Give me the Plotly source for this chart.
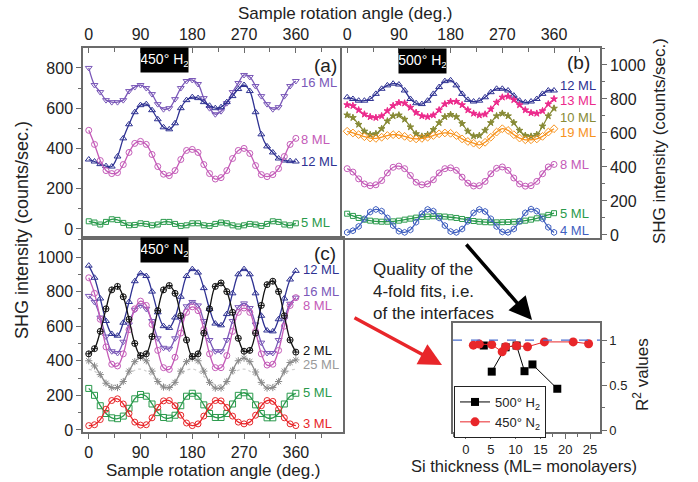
import plotly.graph_objects as go

# ---------------- data ----------------
ANGLES = list(range(0, 361, 10))

# panel (a) 450 C H2
a_16ML = [800, 715, 680, 640, 630, 630, 640, 685, 705, 715, 700, 670, 620, 595, 600, 645, 700, 735, 740, 720,
          650, 600, 570, 585, 625, 680, 725, 765, 755, 710, 660, 620, 595, 605, 660, 710, 735]
a_12ML = [345, 335, 322, 312, 310, 360, 450, 520, 580, 615, 620, 590, 545, 505, 495, 525, 600, 640, 655, 650,
          630, 612, 600, 605, 630, 660, 695, 715, 685, 580, 470, 410, 380, 350, 340, 337, 335]
a_8ML = [490, 420, 340, 290, 275, 280, 320, 380, 425, 435, 420, 370, 310, 272, 265, 290, 345, 390, 395, 380,
         320, 275, 248, 255, 290, 350, 390, 400, 375, 315, 270, 260, 270, 300, 360, 420, 450]
a_5ML = [38, 32, 22, 35, 48, 45, 30, 18, 20, 28, 25, 18, 22, 35, 35, 25, 15, 18, 28, 28,
         18, 15, 25, 32, 28, 18, 12, 18, 25, 22, 15, 25, 38, 35, 22, 18, 28]

# panel (b) 500 C H2
b_12ML = [810, 800, 790, 790, 800, 830, 860, 880, 890, 885, 850, 800, 775, 770, 790, 830, 870, 905, 910, 880,
          830, 795, 785, 790, 810, 840, 860, 860, 850, 820, 790, 780, 785, 800, 830, 850, 850]
b_13ML = [765, 760, 735, 710, 695, 690, 700, 730, 760, 778, 775, 750, 720, 700, 695, 705, 735, 770, 785, 785,
          765, 735, 715, 705, 710, 740, 780, 810, 815, 795, 765, 735, 718, 715, 730, 770, 800]
b_10ML = [705, 690, 650, 610, 590, 595, 625, 670, 700, 705, 680, 635, 595, 580, 590, 620, 660, 695, 708, 695,
          655, 610, 582, 585, 615, 660, 700, 715, 700, 660, 615, 585, 580, 590, 640, 700, 745]
b_19ML = [610, 600, 590, 578, 570, 568, 575, 585, 590, 588, 580, 570, 565, 568, 575, 585, 595, 600, 598, 585,
          565, 550, 540, 530, 545, 575, 605, 625, 615, 590, 570, 560, 560, 565, 580, 605, 625]
b_8ML = [390, 370, 330, 300, 290, 295, 320, 365, 398, 405, 390, 350, 310, 295, 300, 325, 365, 390, 395, 380,
         340, 305, 288, 290, 315, 360, 392, 400, 380, 335, 300, 287, 290, 315, 360, 400, 415]
b_5ML = [125, 112, 100, 90, 84, 80, 78, 78, 80, 84, 90, 96, 102, 106, 108, 110, 110, 108, 104, 100,
         94, 88, 82, 78, 75, 74, 74, 75, 76, 78, 80, 84, 90, 98, 108, 118, 128]
b_4ML = [15, 25, 50, 95, 135, 150, 140, 100, 55, 22, 15, 30, 75, 125, 150, 140, 100, 55, 20, 15,
         35, 80, 130, 150, 138, 95, 50, 18, 15, 35, 80, 130, 152, 140, 95, 45, 15]

# panel (c) 450 C N2
c_12ML = [950, 880, 760, 630, 555, 545, 620, 740, 860, 905, 890, 800, 680, 600, 590, 650, 770, 890, 930, 910,
          820, 700, 615, 605, 670, 790, 900, 930, 900, 790, 660, 575, 570, 640, 760, 870, 920]
c_16ML = [775, 740, 650, 540, 455, 445, 510, 610, 695, 720, 700, 630, 530, 475, 470, 530, 640, 715, 740, 720,
          630, 520, 455, 455, 520, 630, 710, 732, 705, 610, 505, 445, 445, 520, 640, 730, 765]
c_8ML = [880, 790, 640, 480, 380, 370, 440, 580, 700, 745, 720, 610, 460, 360, 350, 420, 560, 680, 712, 690,
         580, 440, 360, 360, 430, 570, 680, 705, 680, 570, 440, 375, 380, 460, 600, 720, 765]
c_2ML = [440, 470, 570, 700, 810, 830, 770, 640, 500, 430, 440, 540, 690, 810, 835, 790, 660, 520, 425, 440,
         560, 700, 830, 850, 800, 680, 530, 455, 460, 560, 720, 840, 860, 800, 660, 520, 450]
c_25ML = [400, 370, 320, 270, 245, 245, 280, 340, 395, 420, 400, 340, 280, 248, 245, 275, 340, 395, 415, 400,
          340, 275, 242, 242, 280, 345, 400, 415, 395, 335, 275, 242, 245, 280, 340, 390, 405]
c_25ML_fit = [350, 340, 310, 280, 262, 262, 285, 320, 345, 352, 340, 310, 280, 262, 262, 285, 320, 345, 352, 340,
              310, 280, 262, 262, 285, 320, 345, 352, 340, 310, 280, 262, 262, 285, 320, 345, 350]
c_5ML = [240, 200, 140, 95, 70, 65, 80, 125, 180, 205, 195, 150, 100, 72, 68, 85, 140, 195, 212, 195,
         145, 95, 72, 72, 95, 150, 200, 215, 195, 145, 95, 70, 70, 95, 150, 195, 212]
c_3ML = [25, 30, 60, 120, 170, 180, 150, 95, 45, 28, 30, 70, 130, 168, 170, 140, 85, 40, 25, 35,
         80, 135, 170, 168, 130, 80, 45, 35, 45, 85, 140, 170, 165, 120, 70, 35, 25]

# inset: R^2 of 4-fold fits
h2_thick = [3.6, None, 5.2, 8.0, 10.2, 11.8, None, 13.4, 18.4]
h2_r2 = [0.94, None, 0.65, 0.92, 0.94, 0.655, None, 0.73, 0.46]
n2_thick = [1.5, 2.7, 5.2, 7.3, 8.0, 10.2, 12.4, 15.8, 21.6, 24.7]
n2_r2 = [0.944, 0.956, 0.95, 0.87, 0.926, 0.937, 0.926, 0.98, 0.98, 0.96]

# ---------------- styling ----------------
W, H = 698, 482
FONT = "Liberation Sans, Arial, sans-serif"
AX = "#6b6b6b"
C_PURPLE = "#7a58b8"
C_NAVY = "#2e3192"
C_ORCHID = "#c45bb8"
C_GREEN = "#2a9a4c"
C_PINK = "#ec2a8c"
C_OLIVE = "#878a35"
C_ORANGE = "#f7931e"
C_BLUE = "#3f5fbf"
C_BLACK = "#111111"
C_GRAY = "#8a8a8a"
C_RED = "#e8262a"


def pxx(x):
    return x / W


def pyy(y):
    return 1 - y / H


fig = go.Figure()


def add_series(xa, ya, vals, color, symbol, size=6):
    fig.add_trace(go.Scatter(
        x=ANGLES, y=vals, mode="lines+markers", xaxis=xa, yaxis=ya, showlegend=False,
        line=dict(color=color, width=1.3, shape="spline", smoothing=1.0),
        marker=dict(symbol=symbol, size=size, color=color, line=dict(color=color, width=1)),
        hoverinfo="skip"))


# panel (a)
add_series("x", "y", a_16ML, C_PURPLE, "triangle-down-open")
add_series("x", "y", a_12ML, C_NAVY, "triangle-up-open")
add_series("x", "y", a_8ML, C_ORCHID, "circle-open")
add_series("x", "y", a_5ML, C_GREEN, "square-open", 5)

# panel (b)
add_series("x2", "y2", b_12ML, C_NAVY, "triangle-up-open")
add_series("x2", "y2", b_13ML, C_PINK, "star", 5)
add_series("x2", "y2", b_10ML, C_OLIVE, "star", 5)
add_series("x2", "y2", b_19ML, C_ORANGE, "diamond-open")
add_series("x2", "y2", b_8ML, C_ORCHID, "circle-open")
add_series("x2", "y2", b_5ML, C_GREEN, "square-open", 5)
add_series("x2", "y2", b_4ML, C_BLUE, "hexagon-open")

# panel (c)
fig.add_trace(go.Scatter(x=ANGLES, y=c_25ML_fit, mode="lines", xaxis="x3", yaxis="y3", showlegend=False,
                         line=dict(color="#cfcfcf", width=1.2, dash="dot", shape="spline"), hoverinfo="skip"))
add_series("x3", "y3", c_25ML, C_GRAY, "asterisk-open")
add_series("x3", "y3", c_16ML, C_PURPLE, "triangle-down-open")
add_series("x3", "y3", c_8ML, C_ORCHID, "circle-open")
add_series("x3", "y3", c_12ML, C_NAVY, "triangle-up-open")
add_series("x3", "y3", c_2ML, C_BLACK, "circle-cross-open")
add_series("x3", "y3", c_5ML, C_GREEN, "square-open")
add_series("x3", "y3", c_3ML, C_RED, "circle-open")

# inset
fig.add_trace(go.Scatter(x=h2_thick, y=h2_r2, mode="lines+markers", xaxis="x4", yaxis="y4",
                         name="500° H<sub>2</sub>", line=dict(color="black", width=1),
                         marker=dict(symbol="square", size=8, color="black"), connectgaps=False))
fig.add_trace(go.Scatter(x=n2_thick, y=n2_r2, mode="lines+markers", xaxis="x4", yaxis="y4",
                         name="450° N<sub>2</sub>", line=dict(color=C_RED, width=1),
                         marker=dict(symbol="circle", size=9, color=C_RED)))

common = dict(showline=True, linecolor=AX, linewidth=1.5, mirror=True, showgrid=False, zeroline=False,
              automargin=False,
              tickfont=dict(size=16, color="#222", family=FONT), ticklen=5, tickwidth=1.2, tickcolor=AX)

xa_top = dict(common, range=[-10, 442], tickmode="linear", tick0=0, dtick=90, side="top", ticks="inside",
              minor=dict(dtick=45, tick0=0, ticks="inside", ticklen=4, tickcolor=AX))

fig.update_layout(
    width=W, height=H, margin=dict(l=0, r=0, t=0, b=0, autoexpand=False),
    plot_bgcolor="white", paper_bgcolor="white",
    font=dict(family=FONT, color="#222"),
    xaxis=dict(xa_top, domain=[pxx(83), pxx(343)], anchor="y"),
    yaxis=dict(common, domain=[pyy(238), pyy(48)], anchor="x", range=[-45, 899], tickmode="linear",
               tick0=0, dtick=200, ticks="outside",
               minor=dict(dtick=100, tick0=0, ticks="outside", ticklen=3, tickcolor=AX)),
    xaxis2=dict(xa_top, domain=[pxx(342), pxx(600)], anchor="y2", range=[-9, 440]),
    yaxis2=dict(common, domain=[pyy(238), pyy(48)], anchor="x2", range=[-18, 1100], side="right",
                tickmode="linear", tick0=0, dtick=200, ticks="outside",
                minor=dict(dtick=100, tick0=0, ticks="outside", ticklen=3, tickcolor=AX)),
    xaxis3=dict(common, domain=[pxx(83), pxx(343)], anchor="y3", range=[-10, 442], tickmode="linear",
                tick0=0, dtick=90, side="bottom", ticks="outside",
                minor=dict(dtick=45, tick0=0, ticks="outside", ticklen=4, tickcolor=AX)),
    yaxis3=dict(common, domain=[pyy(432), pyy(238)], anchor="x3", range=[-12, 1110], tickmode="linear",
                tick0=0, dtick=200, ticks="outside",
                minor=dict(dtick=100, tick0=0, ticks="outside", ticklen=3, tickcolor=AX)),
    xaxis4=dict(common, domain=[pxx(453), pxx(600)], anchor="y4", range=[-2.6, 27], tickmode="linear",
                tick0=0, dtick=5, ticks="outside", tickfont=dict(size=13, color="#222", family=FONT),
                minor=dict(dtick=2.5, tick0=0, ticks="outside", ticklen=3, tickcolor=AX)),
    yaxis4=dict(common, domain=[pyy(432), pyy(323)], anchor="x4", range=[-0.02, 1.19], side="right",
                tickmode="linear", tick0=0, dtick=0.5, ticks="outside",
                tickfont=dict(size=13, color="#222", family=FONT),
                minor=dict(dtick=0.25, tick0=0, ticks="outside", ticklen=3, tickcolor=AX)),
    legend=dict(x=pxx(454), y=pyy(386), xanchor="left", yanchor="top", bgcolor="white",
                bordercolor="#222", borderwidth=1, font=dict(size=13, family=FONT, color="#222"),
                tracegroupgap=0, itemwidth=30),
    shapes=[dict(type="line", xref="x4 domain", x0=0, x1=1, yref="y4", y0=1, y1=1,
                 line=dict(color="#4a6fd0", width=1.2, dash="dash"))],
)

ann = []


def text(x, y, s, size=17, color="#222", angle=0, xanchor="center", align="center"):
    ann.append(dict(x=pxx(x), y=pyy(y), xref="paper", yref="paper", text=s, showarrow=False,
                    font=dict(size=size, color=color, family=FONT), textangle=angle,
                    xanchor=xanchor, yanchor="middle", align=align, borderpad=0))


# axis titles
text(345, 13, "Sample rotation angle (deg.)", 17)
text(213, 470, "Sample rotation angle (deg.)", 17)
text(22, 230, "SHG intensity (counts/sec.)", 18, angle=-90)
text(659, 141, "SHG intensity (counts/sec.)", 17, angle=-90)
text(524, 466, "Si thickness (ML= monolayers)", 16.5)
text(641, 375, "R<sup>2</sup> values", 17, angle=-90)
text(372, 291, "Quality of the<br>4-fold fits, i.e.<br>of the interfaces", 17, xanchor="left", align="left")

# panel letters
text(325, 66, "(a)", 19)
text(578, 63, "(b)", 19)
text(325, 253, "(c)", 19)

# black condition boxes
for cx, cy, s in [(164.5, 60, "450° H<sub>2</sub>"), (422.5, 61, "500° H<sub>2</sub>"),
                  (164.5, 250, "450° N<sub>2</sub>")]:
    ann.append(dict(x=pxx(cx), y=pyy(cy), xref="paper", yref="paper", text=s, showarrow=False,
                    bgcolor="black", font=dict(size=14, color="white", family=FONT), width=47, height=24,
                    borderpad=0, xanchor="center", yanchor="middle"))

# series labels
labels_a = [("16 ML", 730, C_PURPLE), ("8 ML", 442, C_ORCHID), ("12 ML", 333, C_NAVY), ("5 ML", 30, C_GREEN)]
labels_b = [("12 ML", 882, C_NAVY), ("13 ML", 794, C_PINK), ("10 ML", 694, C_OLIVE), ("19 ML", 600, C_ORANGE),
            ("8 ML", 412, C_ORCHID), ("5 ML", 129, C_GREEN), ("4 ML", 29, C_BLUE)]
labels_c = [("12 ML", 928, C_NAVY), ("16 ML", 800, C_PURPLE), ("8 ML", 722, C_ORCHID), ("2 ML", 462, C_BLACK),
            ("25 ML", 376, "#9a9a9a"), ("5 ML", 214, C_GREEN), ("3 ML", 35, C_RED)]
for labs, xr, yr, xpos in [(labels_a, "x", "y", 368), (labels_b, "x2", "y2", 368), (labels_c, "x3", "y3", 370)]:
    for s, yv, col in labs:
        ann.append(dict(x=xpos, y=yv, xref=xr, yref=yr, text=s, showarrow=False, xanchor="left",
                        yanchor="middle", borderpad=0, font=dict(size=13, color=col, family=FONT)))

# arrows
ann.append(dict(x=pxx(532), y=pyy(320), xref="paper", yref="paper", ax=-67, ay=-77, axref="pixel",
                ayref="pixel", showarrow=True, arrowhead=2, arrowsize=1.3, arrowwidth=3.5, arrowcolor="black",
                text=""))
ann.append(dict(x=pxx(442), y=pyy(365), xref="paper", yref="paper", ax=-89, ay=-48, axref="pixel",
                ayref="pixel", showarrow=True, arrowhead=2, arrowsize=1.3, arrowwidth=3.5, arrowcolor=C_RED,
                text=""))

fig.update_layout(annotations=ann)
fig.write_html("out.html", config={"displayModeBar": False},
               post_script="document.body.style.margin='0px';document.body.style.overflow='hidden';")
